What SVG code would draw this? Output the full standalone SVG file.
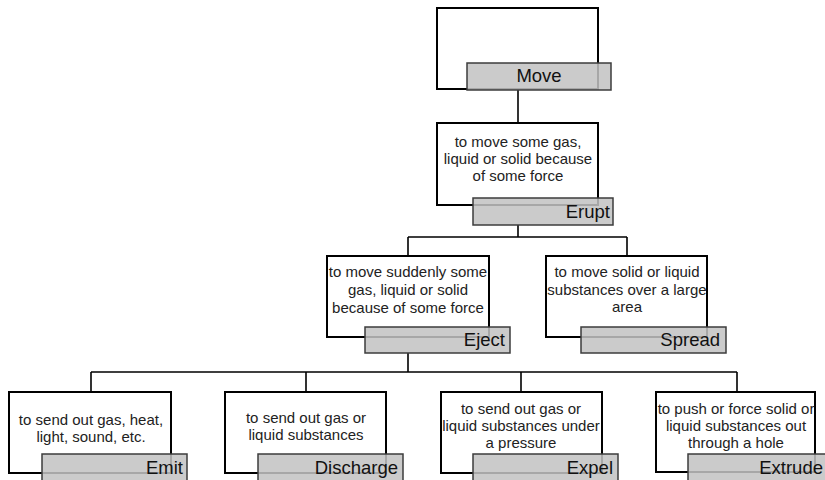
<svg xmlns="http://www.w3.org/2000/svg" width="825" height="480" viewBox="0 0 825 480">
<style>
.box{fill:#fff;stroke:#000;stroke-width:2}
.lab{fill:#c2c2c2;fill-opacity:0.86;stroke:#3c3c3c;stroke-width:1.5}
.conn{fill:none;stroke:#000;stroke-width:1.6}
.t{font-family:"Liberation Sans",Arial,sans-serif;font-size:15px;fill:#222;text-anchor:middle}
.lt{font-family:"Liberation Sans",Arial,sans-serif;font-size:18.5px;fill:#111;text-anchor:end}
</style>
<rect width="825" height="480" fill="#fff"/>
<g id="connectors">
<path class="conn" d="M518 90V123"/>
<path class="conn" d="M518 225V237M408 237H627M408 237V256M627 237V256"/>
<path class="conn" d="M408 353V372M91 372H737M91 372V392M306 372V392M521 372V392M737 372V392"/>
</g>
<g id="move">
<rect class="box" x="437" y="8" width="161" height="81"/>
<rect class="lab" x="467" y="63" width="144" height="27"/>
<text class="lt" x="539" y="82" style="text-anchor:middle">Move</text>
</g>
<g id="erupt">
<rect class="box" x="437" y="123" width="161" height="82"/>
<text class="t" x="518" y="147">to move some gas,</text>
<text class="t" x="518" y="164">liquid or solid because</text>
<text class="t" x="518" y="181">of some force</text>
<rect class="lab" x="473" y="198" width="140" height="27"/>
<text class="lt" x="610" y="218">Erupt</text>
</g>
<g id="eject">
<rect class="box" x="327" y="256" width="162" height="81"/>
<text class="t" x="408" y="277">to move suddenly some</text>
<text class="t" x="408" y="295">gas, liquid or solid</text>
<text class="t" x="408" y="313">because of some force</text>
<rect class="lab" x="365" y="327" width="145" height="26"/>
<text class="lt" x="505" y="346">Eject</text>
</g>
<g id="spread">
<rect class="box" x="546" y="256" width="161" height="81"/>
<text class="t" x="627" y="277">to move solid or liquid</text>
<text class="t" x="627" y="295">substances over a large</text>
<text class="t" x="627" y="312">area</text>
<rect class="lab" x="581" y="327" width="145" height="26"/>
<text class="lt" x="720" y="346">Spread</text>
</g>
<g id="emit">
<rect class="box" x="9" y="392" width="162" height="81"/>
<text class="t" x="91" y="425">to send out gas, heat,</text>
<text class="t" x="91" y="442">light, sound, etc.</text>
<rect class="lab" x="42" y="454" width="145" height="30"/>
<text class="lt" x="183" y="474">Emit</text>
</g>
<g id="discharge">
<rect class="box" x="225" y="392" width="161" height="81"/>
<text class="t" x="306" y="423">to send out gas or</text>
<text class="t" x="306" y="440">liquid substances</text>
<rect class="lab" x="258" y="454" width="145" height="30"/>
<text class="lt" x="398" y="474">Discharge</text>
</g>
<g id="expel">
<rect class="box" x="441" y="392" width="161" height="81"/>
<text class="t" x="521" y="414">to send out gas or</text>
<text class="t" x="521" y="431">liquid substances under</text>
<text class="t" x="521" y="448">a pressure</text>
<rect class="lab" x="473" y="454" width="145" height="30"/>
<text class="lt" x="613" y="474">Expel</text>
</g>
<g id="extrude">
<rect class="box" x="656" y="392" width="159" height="80"/>
<text class="t" x="736" y="414">to push or force solid or</text>
<text class="t" x="736" y="431">liquid substances out</text>
<text class="t" x="736" y="448">through a hole</text>
<rect class="lab" x="688" y="454" width="145" height="30"/>
<text class="lt" x="823" y="474">Extrude</text>
</g>
</svg>
